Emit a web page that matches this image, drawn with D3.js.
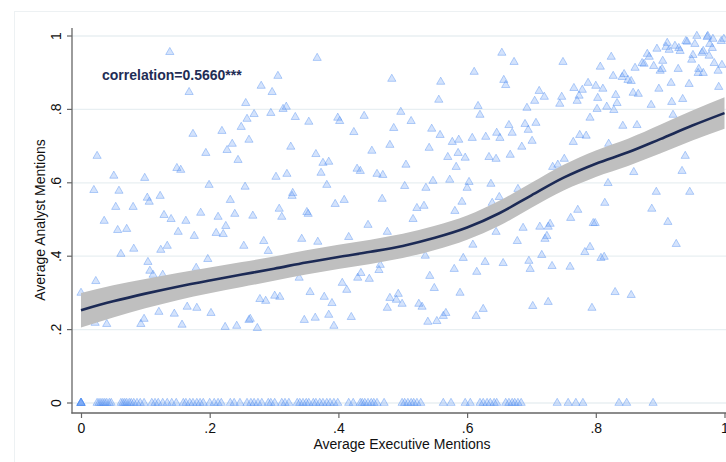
<!DOCTYPE html>
<html><head><meta charset="utf-8">
<script src="https://cdn.jsdelivr.net/npm/d3@7"></script>
<style>body{margin:0;background:#fff}svg{display:block}</style>
</head><body><svg id="c" width="726" height="462"></svg>
<script>
// ---------- DATA ----------
const xTicks = [0, 0.2, 0.4, 0.6, 0.8, 1];
const xTickLabels = ["0", ".2", ".4", ".6", ".8", "1"];
const yTicks = [0, 0.2, 0.4, 0.6, 0.8, 1];
const yTickLabels = ["0", ".2", ".4", ".6", ".8", "1"];
const xTitle = "Average Executive Mentions";
const yTitle = "Average Analyst Mentions";
const corrLabel = "correlation=0.5660***";

// scatter points with analyst mentions > 0: [executive, analyst]
const nonZeroPoints = [
[.138,.956],[.168,.847],[.256,.817],[.174,.733],[.219,.741],[.249,.752],[.258,.774],[.235,.706],[.227,.689],[.194,.681],[.025,.673],[.244,.662],[.261,.717],
[.367,.940],[.306,.891],[.280,.864],[.297,.847],[.483,.883],[.559,.875],[.556,.826],[.611,.902],[.617,.809],[.620,.785],[.269,.787],[.295,.790],[.314,.801],[.319,.807],[.333,.779],[.354,.766],[.399,.777],[.402,.768],[.440,.782],[.497,.793],[.513,.768],[.486,.749],[.424,.738],[.326,.698],[.365,.678],[.452,.687],[.480,.703],[.545,.747],[.558,.730],[.541,.695],[.577,.711],[.587,.717],[.608,.722],[.586,.681],[.570,.670],[.597,.668],
[.629,.725],[.646,.736],[.651,.722],[.654,.954],[.673,.929],[.749,.929],[.824,.943],[.807,.916],[.657,.880],[.660,.866],[.712,.850],[.720,.834],[.705,.823],[.747,.834],[.744,.815],[.693,.804],[.766,.858],[.779,.853],[.788,.872],[.800,.864],[.811,.856],[.774,.837],[.771,.823],[.803,.831],[.802,.801],[.817,.807],[.828,.798],[.833,.817],[.831,.839],[.827,.891],[.841,.888],[.844,.896],[.850,.880],[.855,.877],[.858,.845],[.866,.842],[.861,.913],[.872,.926],[.875,.924],[.880,.951],[.883,.943],[.890,.918],[.904,.932],[.895,.965],[.911,.981],[.909,.970],[.914,.962],[.923,.973],[.929,.967],[.931,.959],[.940,.986],[.942,.984],[.954,.978],[.951,.948],[.949,.935],[.965,.954],[.967,.959],[.957,1.0],[.974,1.0],[.973,.997],[.982,.992],[.995,.986],[.999,.992],[.977,.978],[.981,.967],[.976,.946],[.984,.926],[.996,.921],[.990,.905],[.960,.910],[.959,.899],[.967,.899],[.945,.869],[.928,.910],[.917,.872],[.898,.856],[.886,.812],[.918,.820],[.935,.828],[.991,.861],[.920,.785],[.900,.905],[.903,.910],[.791,.777],[.775,.730],[.785,.728],[.765,.711],[.842,.755],[.864,.757],[.665,.757],[.670,.736],[.690,.760],[.695,.744],[.707,.763],[.701,.714],[.685,.698],[.667,.676],[.634,.670],[.645,.665],[.751,.665],[.939,.673],[.820,.706],
[.020,.580],[.051,.619],[.059,.578],[.054,.534],[.036,.496],[.057,.471],[.071,.474],[.081,.534],[.062,.406],[.082,.420],[.099,.613],[.103,.559],[.106,.548],[.123,.564],[.129,.512],[.140,.501],[.151,.466],[.149,.640],[.155,.635],[.163,.496],[.176,.455],[.186,.518],[.199,.594],[.213,.507],[.210,.463],[.221,.460],[.225,.482],[.232,.553],[.239,.515],[.255,.589],[.253,.428],[.124,.417],[.134,.428],[.104,.384],[.107,.360],[.112,.349],[.127,.349],[.179,.368],[.197,.392],[.023,.332],[.000,.300],[.165,.262],[.180,.259],
[.022,.218],[.040,.215],[.093,.215],[.098,.229],[.121,.248],[.145,.243],[.157,.213],[.202,.245],[.224,.207],[.242,.210],[.261,.226],
[.376,.654],[.385,.657],[.373,.627],[.303,.616],[.320,.624],[.382,.594],[.329,.572],[.328,.564],[.409,.553],[.395,.542],[.267,.510],[.308,.529],[.312,.507],[.351,.520],[.353,.515],[.429,.638],[.434,.632],[.460,.624],[.469,.621],[.505,.649],[.503,.591],[.468,.556],[.522,.531],[.533,.537],[.516,.501],[.446,.485],[.476,.466],[.416,.452],[.368,.439],[.343,.447],[.284,.441],[.291,.414],[.547,.605],[.536,.586],[.573,.608],[.583,.643],[.603,.602],[.600,.586],[.637,.597],[.592,.548],[.581,.523],[.639,.545],[.650,.561],[.645,.466],[.609,.431],[.594,.395],[.628,.384],[.580,.365],[.615,.357],[.535,.401],[.542,.346],[.549,.313],[.589,.300],[.465,.376],[.463,.362],[.435,.354],[.430,.341],[.448,.338],[.339,.341],[.406,.327],[.413,.308],[.356,.302],[.378,.289],[.390,.272],[.301,.292],[.309,.289],[.278,.283],[.287,.278],[.480,.286],[.490,.281],[.493,.297],[.499,.270],[.476,.259],[.525,.270],[.530,.262],[.625,.256],
[.263,.229],[.274,.204],[.347,.226],[.364,.232],[.385,.240],[.393,.210],[.420,.234],[.539,.221],[.553,.223],[.563,.237],[.567,.245],[.614,.237],
[.934,.632],[.859,.629],[.819,.599],[.894,.575],[.946,.575],[.814,.545],[.887,.529],[.912,.493],[.925,.433],[.741,.649],[.733,.643],[.679,.583],[.772,.526],[.761,.504],[.796,.490],[.799,.490],[.729,.488],[.726,.480],[.713,.480],[.687,.477],[.724,.455],[.721,.447],[.678,.441],[.791,.425],[.783,.411],[.716,.403],[.808,.395],[.813,.398],[.696,.387],[.656,.381],[.698,.365],[.732,.373],[.760,.371],[.830,.302],[.855,.294],[.702,.264],[.726,.275],[.794,.259]
];

// executive mentions of observations with zero analyst mentions
const zeroRowX = [0,0,0,0,0,.025,.028,.031,.034,.037,.040,.044,.047,.062,.065,.068,.071,.075,.078,.082,.087,.092,.098,.110,.115,.120,.127,.134,.141,.148,.159,.163,.169,.174,.180,.185,.190,.200,.207,.213,.218,.232,.238,.247,.258,
.264,.269,.275,.281,.291,.295,.301,.312,.317,.323,.336,.340,.345,.350,.354,.361,.365,.371,.376,.382,.387,.393,.399,.416,.423,.434,.437,.441,.446,.451,.455,.460,.471,.499,.503,.508,.513,.517,.522,.528,.563,.575,.597,.605,.620,.625,.631,.636,.642,.646,
.660,.665,.670,.674,.679,.684,.740,.757,.769,.780,.836,.848,.889];

// local polynomial fit and 95% CI half-width
const fitX  = [0, .05, .1, .15, .2, .25, .3, .35, .4, .45, .5, .55, .6, .65, .7, .75, .8, .85, .9, .95, 1];
const fitY  = [.253,.277,.298,.317,.334,.350,.366,.383,.398,.412,.428,.450,.478,.517,.566,.614,.652,.683,.719,.756,.790];
const fitCI = [.047,.044,.040,.037,.035,.034,.033,.033,.033,.033,.033,.033,.033,.034,.034,.035,.036,.037,.039,.041,.043];

// ---------- DRAW ----------
const svg = d3.select('#c');
const font = '"Liberation Sans", Arial, Helvetica, sans-serif';

svg.append('rect').attr('x',14.5).attr('y',11.5).attr('width',760).attr('height',500)
  .attr('fill','#fff').attr('stroke','#edf1f3').attr('stroke-width',1);

const x = d3.scaleLinear().domain([0,1]).range([81,724.5]);
const y = d3.scaleLinear().domain([0,1]).range([403,36]);

// gridlines
svg.append('g').selectAll('line').data(yTicks).join('line')
  .attr('x1',72).attr('x2',726).attr('y1',d=>y(d)).attr('y2',d=>y(d))
  .attr('stroke','#e8eff2').attr('stroke-width',1.3);

// scatter
const tri = d3.symbol().type(d3.symbolTriangle).size(29);
const gp = svg.append('g');
const allPts = nonZeroPoints.concat(zeroRowX.map(v=>[v,0]));
gp.selectAll('path').data(allPts).join('path')
  .attr('d', tri)
  .attr('transform', d=>`translate(${x(d[0])},${y(d[1])})`)
  .attr('fill','rgba(100,155,245,0.28)')
  .attr('stroke','rgba(80,140,240,0.45)')
  .attr('stroke-width',0.9);

// CI band
const fit = fitX.map((v,i)=>({x:v,y:fitY[i],ci:fitCI[i]}));
svg.append('path').datum(fit)
  .attr('d', d3.area().curve(d3.curveMonotoneX).x(d=>x(d.x)).y0(d=>y(d.y-d.ci)).y1(d=>y(d.y+d.ci)))
  .attr('fill','#bfbfbf');
svg.append('path').datum(fit)
  .attr('d', d3.line().curve(d3.curveMonotoneX).x(d=>x(d.x)).y(d=>y(d.y)))
  .attr('fill','none').attr('stroke','#1c2a55').attr('stroke-width',2.6);

// axes
const yAxis = svg.append('g').attr('transform','translate(72,0)')
  .call(d3.axisLeft(y).tickValues(yTicks).tickFormat((d,i)=>yTickLabels[i]).tickSize(5).tickSizeOuter(0));
yAxis.select('.domain').remove();
yAxis.selectAll('line').attr('stroke','#666').attr('stroke-width',1.2);
yAxis.selectAll('text').attr('transform','rotate(-90)')
  .attr('x',d=>-y(d)).attr('y',-16).attr('dy','0.35em').attr('text-anchor','middle')
  .style('font-family',font).style('font-size','14px').attr('fill','#111');
yAxis.selectAll('.tick').attr('transform', d=>'translate(0,0)');
yAxis.selectAll('.tick line').attr('y1',d=>y(d)).attr('y2',d=>y(d)).attr('x2',-5);

const xAxis = svg.append('g').attr('transform','translate(0,413)')
  .call(d3.axisBottom(x).tickValues(xTicks).tickFormat((d,i)=>xTickLabels[i]).tickSize(5).tickSizeOuter(0));
xAxis.select('.domain').remove();
xAxis.selectAll('line').attr('stroke','#666').attr('stroke-width',1.2);
xAxis.selectAll('text').attr('y',10).attr('dy','0.71em')
  .style('font-family',font).style('font-size','14px').attr('fill','#111');

svg.append('line').attr('x1',72).attr('x2',72).attr('y1',28).attr('y2',413.6)
  .attr('stroke','#666').attr('stroke-width',1.3);
svg.append('line').attr('x1',71.4).attr('x2',726).attr('y1',413).attr('y2',413)
  .attr('stroke','#666').attr('stroke-width',1.3);

// titles
svg.append('text').attr('x',402).attr('y',449).attr('text-anchor','middle')
  .style('font-family',font).style('font-size','14px').attr('fill','#111').text(xTitle);
svg.append('text').attr('transform','translate(45,220) rotate(-90)').attr('text-anchor','middle')
  .style('font-family',font).style('font-size','14px').attr('fill','#111').text(yTitle);

// annotation
svg.append('text').attr('x',102).attr('y',80)
  .style('font-family',font).style('font-size','14px').style('font-weight','bold')
  .attr('fill','#1f2d55').text(corrLabel);
</script></body></html>
